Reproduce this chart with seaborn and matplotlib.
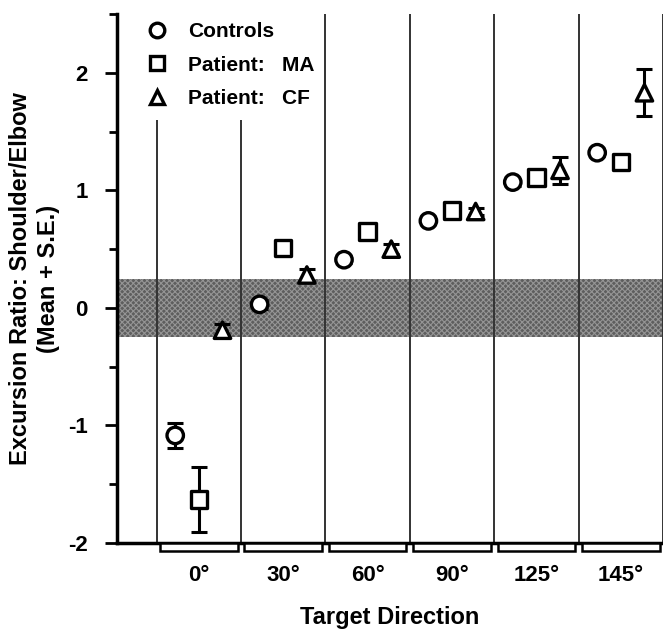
import numpy as np
import pandas as pd
import matplotlib
matplotlib.use('Agg')
import matplotlib.pyplot as plt
from matplotlib.patches import Rectangle
from matplotlib.ticker import FixedLocator
import seaborn as sns

directions = ['0°', '30°', '60°', '90°', '125°', '145°']
groups = ['Controls', 'Patient:   MA', 'Patient:   CF']

controls_mean = [-1.085, 0.03, 0.41, 0.74, 1.07, 1.32]
controls_se = [0.11, 0.04, 0.03, 0.03, 0.03, 0.03]
ma_mean = [-1.63, 0.51, 0.65, 0.83, 1.11, 1.24]
ma_se = [0.28, 0.03, 0.03, 0.03, 0.05, 0.04]
cf_mean = [-0.19, 0.28, 0.50, 0.82, 1.17, 1.83]
cf_se = [0.05, 0.05, 0.04, 0.03, 0.115, 0.20]

means = [controls_mean, ma_mean, cf_mean]
ses = [controls_se, ma_se, cf_se]
offsets = [-0.28, 0.0, 0.28]

rows = []
for g, m, s, off in zip(groups, means, ses, offsets):
    for i, d in enumerate(directions):
        rows.append({'group': g, 'direction': d, 'x': i + off, 'mean': m[i], 'se': s[i]})
df = pd.DataFrame(rows)

sns.set_style('ticks')
plt.rcParams['font.family'] = ['Liberation Sans', 'DejaVu Sans']
plt.rcParams['font.weight'] = 'bold'
plt.rcParams['hatch.linewidth'] = 0.8
plt.rcParams['text.color'] = 'black'
plt.rcParams['axes.labelcolor'] = 'black'
plt.rcParams['xtick.color'] = 'black'
plt.rcParams['ytick.color'] = 'black'
plt.rcParams['axes.edgecolor'] = 'black'

fig = plt.figure(figsize=(6.63, 6.35), dpi=100)
ax = fig.add_axes([117 / 663, 1 - 543 / 635, 546 / 663, 529 / 635])

# shaded normal band
ax.axhspan(-0.25, 0.25, facecolor='#5e5e5e', edgecolor='#959595', hatch='xxxxxx', linewidth=0, zorder=0)

# separators between directions
ax.vlines([-0.5, 0.5], -2, 1.6, color='#333333', lw=1.4, zorder=1)
ax.vlines([1.5, 2.5, 3.5, 4.5, 5.5], -2, 2.5, color='#333333', lw=1.4, zorder=1)

ax.errorbar(df['x'], df['mean'], yerr=df['se'], fmt='none', ecolor='black',
            elinewidth=2.2, capsize=6, capthick=2.2, zorder=2)

marker_map = {'Controls': 'o', 'Patient:   MA': 's', 'Patient:   CF': '^'}
sns.scatterplot(data=df, x='x', y='mean', style='group', markers=marker_map,
                s=140, facecolor='white', edgecolor='black', linewidth=2.4,
                color='black', ax=ax, zorder=3, legend=False)

handles = [plt.Line2D([], [], ls='none', marker=marker_map[g], markersize=10.5,
                      markerfacecolor='white', markeredgecolor='black',
                      markeredgewidth=2.4, label=g) for g in groups]
ax.legend(handles=handles, loc='upper left', bbox_to_anchor=(0.0, 1.02), frameon=False,
          prop={'weight': 'bold', 'size': 15}, handletextpad=0.5, labelspacing=0.7,
          labelcolor='black')

ax.set_xlim(-0.97, 5.5)
ax.set_ylim(-2, 2.5)

ax.yaxis.set_major_locator(FixedLocator([-2, -1, 0, 1, 2]))
ax.yaxis.set_minor_locator(FixedLocator([-1.5, -0.5, 0.5, 1.5, 2.5]))
ax.set_yticklabels(['-2', '-1', '0', '1', '2'], fontsize=16, fontweight='bold')
ax.tick_params(axis='y', which='major', length=9, width=2, pad=12)
ax.tick_params(axis='y', which='minor', length=6, width=2)

ax.set_xticks(range(len(directions)))
ax.set_xticklabels(directions, fontsize=16, fontweight='bold')
ax.tick_params(axis='x', length=0, pad=16)

# brackets under each direction
for i in range(len(directions)):
    ax.add_patch(Rectangle((i - 0.46, -2.07), 0.92, 0.07, facecolor='white',
                           edgecolor='black', lw=1.8, clip_on=False, zorder=4))

for side in ['top', 'right']:
    ax.spines[side].set_visible(False)
ax.spines['left'].set_linewidth(2.5)
ax.spines['bottom'].set_linewidth(2.5)

ax.set_xlabel('Target Direction', fontsize=17, fontweight='bold', labelpad=14)
ax.set_ylabel('Excursion Ratio: Shoulder/Elbow\n(Mean + S.E.)', fontsize=17,
              fontweight='bold', labelpad=6, linespacing=1.25)

fig.savefig('out.png', dpi=100)
